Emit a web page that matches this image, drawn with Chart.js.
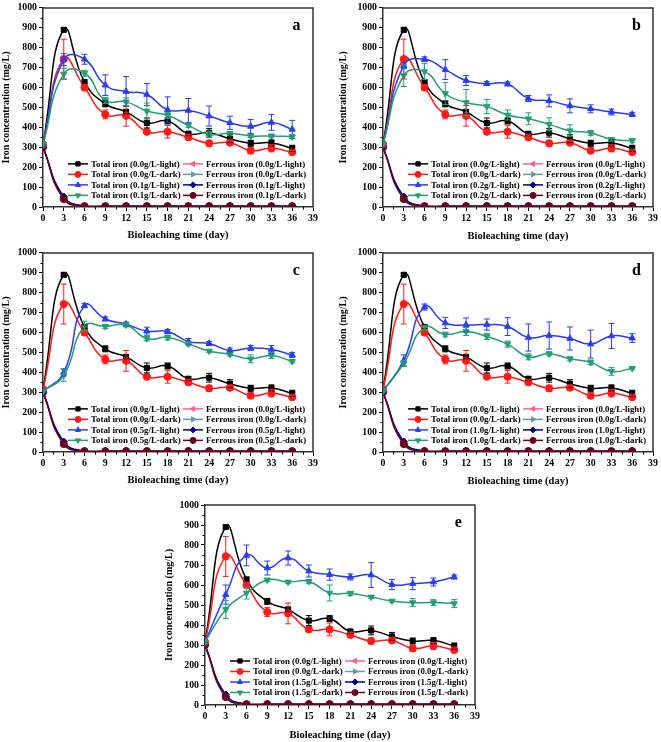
<!DOCTYPE html>
<html><head><meta charset="utf-8">
<script src="https://cdn.jsdelivr.net/npm/chart.js@4.4.1/dist/chart.umd.min.js"></script>
<style>
html,body{margin:0;padding:0;background:#fff;}
body{width:661px;height:742px;position:relative;overflow:hidden;}
canvas{position:absolute;display:block;}
</style>
</head><body>
<canvas id="ca" width="330" height="245" style="left:0;top:0;width:330px;height:245px"></canvas>
<canvas id="cb" width="331" height="245" style="left:330px;top:0;width:331px;height:245px"></canvas>
<canvas id="cc" width="330" height="245" style="left:0;top:245px;width:330px;height:245px"></canvas>
<canvas id="cd" width="331" height="245" style="left:330px;top:245px;width:331px;height:245px"></canvas>
<canvas id="ce" width="340" height="252" style="left:160px;top:490px;width:340px;height:252px"></canvas>
<script>
// ---------------- DATA ----------------
const days = [0,3,6,9,12,15,18,21,24,27,30,33,36];
const xTickValues = [0,3,6,9,12,15,18,21,24,27,30,33,36,39];
const yTickValues = [0,100,200,300,400,500,600,700,800,900,1000];
const panelLetters = ['a','b','c','d','e'];
const doses = ['0.1','0.2','0.5','1.0','1.5'];

// control (0.0 g/L), same in every panel
const totalLight00    = [315,890,628,518,478,422,432,368,373,343,320,322,295];
const totalLight00Err = [0,10,10,15,10,25,15,10,22,20,15,15,15];
const totalDark00     = [315,743,600,465,458,378,378,350,320,323,283,295,275];
const totalDark00Err  = [0,100,15,22,52,10,32,12,15,12,15,18,10];

// panel a (0.1 g/L)
const totalLightA    = [315,740,742,612,580,565,488,485,457,423,405,425,390];
const totalLightAErr = [0,30,25,52,75,55,65,60,50,33,35,40,45];
const totalDarkA     = [315,668,672,535,528,482,460,410,365,370,357,357,353];
const totalDarkAErr  = [0,28,15,15,20,40,15,10,15,8,8,8,10];
// panel b (0.2 g/L)
const totalLightB    = [315,710,742,690,635,620,618,545,533,508,493,477,465];
const totalLightBErr = [0,15,12,50,25,10,10,15,30,35,20,15,10];
const totalDarkB     = [315,660,680,570,525,505,462,443,415,383,372,340,333];
const totalDarkBErr  = [0,55,40,55,65,35,25,30,33,30,12,8,10];
// panel c (0.5 g/L)
const totalLightC    = [305,400,735,668,642,607,605,555,545,510,522,515,487];
const totalLightCErr = [0,18,10,10,10,20,10,15,10,12,12,20,12];
const totalDarkC     = [305,385,632,630,638,570,575,543,507,490,468,485,455];
const totalDarkCErr  = [0,30,25,10,10,12,12,10,8,8,20,15,8];
// panel d (1.0 g/L)
const totalLightD    = [305,460,728,648,638,640,630,575,585,570,542,583,572];
const totalLightDErr = [0,28,15,28,35,28,45,68,68,58,70,63,22];
const totalDarkD     = [305,445,625,590,605,580,542,478,493,468,450,405,420];
const totalDarkDErr  = [0,15,10,12,20,15,15,15,10,10,12,20,5];
// panel e (1.5 g/L)
const totalLightE    = [315,552,748,685,735,670,652,640,650,602,607,615,640];
const totalLightEErr = [0,48,52,35,35,30,28,15,62,25,30,20,10];
const totalDarkE     = [315,478,560,625,615,618,560,558,540,520,512,512,507];
const totalDarkEErr  = [0,45,30,8,8,10,40,10,8,5,20,15,20];

// ferrous iron
const ferrousLight00 = [300,48,4,4,4,4,4,4,4,4,4,4,4];
const ferrousDark00  = [300,42,4,4,4,4,4,4,4,4,4,4,4];
const ferrousLightX  = [300,52,4,4,4,4,4,4,4,4,4,4,4];
const ferrousDarkX   = [300,40,4,4,4,4,4,4,4,4,4,4,4];

// ---------------- STYLE ----------------
const FONT = "'Liberation Serif','Times New Roman',serif";
const COLORS = ['#000000','#ff1a1a','#2b3cf0','#22a075','#ff5f8f','#5f9ea0','#000090','#6a0020'];
const STYLES = [['rect',0],['circle',0],['triangle',0],['triangle',180],['triangle',270],['triangle',90],['rectRot',0],['circle',0]];

const panels = [
  {id:'ca', tl:totalLightA, tlE:totalLightAErr, td:totalDarkA, tdE:totalDarkAErr, pad:{left:0,top:6,right:17,bottom:0}, yW:43, xH:38, yTitlePad:0, xTitlePad:3.7},
  {id:'cb', tl:totalLightB, tlE:totalLightBErr, td:totalDarkB, tdE:totalDarkBErr, pad:{left:0,top:7,right:8,bottom:0}, yW:53, xH:38, yTitlePad:7, xTitlePad:2.7},
  {id:'cc', tl:totalLightC, tlE:totalLightCErr, td:totalDarkC, tdE:totalDarkCErr, pad:{left:0,top:7,right:17,bottom:0}, yW:43, xH:38, yTitlePad:0, xTitlePad:3.7},
  {id:'cd', tl:totalLightD, tlE:totalLightDErr, td:totalDarkD, tdE:totalDarkDErr, pad:{left:0,top:7,right:8,bottom:0}, yW:53, xH:38, yTitlePad:7, xTitlePad:2.7},
  {id:'ce', tl:totalLightE, tlE:totalLightEErr, td:totalDarkE, tdE:totalDarkEErr, pad:{left:0,top:15,right:25,bottom:0}, yW:45, xH:37, yTitlePad:3, xTitlePad:0.7},
];

function pts(vals){ return days.map((d,i)=>({x:d,y:vals[i]})); }

function drawMarker(ctx, style, rot, r, x, y, color){
  if (Chart.helpers && Chart.helpers.drawPoint){
    ctx.save(); ctx.fillStyle=color; ctx.strokeStyle=color; ctx.lineWidth=1;
    Chart.helpers.drawPoint(ctx,{pointStyle:style,rotation:rot,radius:r,borderWidth:1},x,y);
    ctx.restore();
  }
}

const framePlugin = {
  id:'frameExtras',
  afterDatasetsDraw(chart, args, opts){
    const ctx = chart.ctx;
    const xs = chart.scales.x, ys = chart.scales.y;
    // error bars
    chart.data.datasets.forEach((ds,di)=>{
      if(!ds.errorBars) return;
      ctx.save(); ctx.strokeStyle = ds.borderColor; ctx.lineWidth = 1;
      ds.data.forEach((p,i)=>{
        const e = ds.errorBars[i]; if(!e) return;
        const px = xs.getPixelForValue(p.x);
        const y1 = ys.getPixelForValue(p.y - e), y2 = ys.getPixelForValue(p.y + e);
        ctx.beginPath();
        ctx.moveTo(px,y1); ctx.lineTo(px,y2);
        ctx.moveTo(px-3,y1); ctx.lineTo(px+3,y1);
        ctx.moveTo(px-3,y2); ctx.lineTo(px+3,y2);
        ctx.stroke();
      });
      ctx.restore();
    });
  },
  afterDraw(chart, args, opts){
    const ctx = chart.ctx, a = chart.chartArea;
    const xs = chart.scales.x, ys = chart.scales.y;
    ctx.save();
    // top and right frame
    ctx.strokeStyle = '#333'; ctx.lineWidth = 1.5;
    ctx.beginPath();
    ctx.moveTo(a.left, a.top); ctx.lineTo(a.right, a.top); ctx.lineTo(a.right, a.bottom);
    ctx.stroke();
    // minor ticks
    ctx.strokeStyle = '#000'; ctx.lineWidth = 1;
    ctx.beginPath();
    for(let i=0;i<xTickValues.length-1;i++){
      const px = Math.round(xs.getPixelForValue((xTickValues[i]+xTickValues[i+1])/2))+0.5;
      ctx.moveTo(px,a.bottom); ctx.lineTo(px,a.bottom+2.5);
    }
    for(let i=0;i<yTickValues.length-1;i++){
      const py = Math.round(ys.getPixelForValue((yTickValues[i]+yTickValues[i+1])/2))+0.5;
      ctx.moveTo(a.left,py); ctx.lineTo(a.left-2.5,py);
    }
    ctx.stroke();
    // panel letter
    ctx.fillStyle='#000';
    ctx.font = "bold 16px "+FONT;
    ctx.textAlign='center'; ctx.textBaseline='middle';
    ctx.fillText(opts.letter, xs.getPixelForValue(36.6), ys.getPixelForValue(912));
    // legend
    ctx.font = "bold 8.8px "+FONT;
    ctx.textAlign='left';
    const rows=[156,166.5,177,187.5];
    const cols=[{l0:25,l1:45,t:48},{l0:140,l1:160,t:163}];
    chart.data.datasets.forEach((ds,i)=>{
      const c = cols[Math.floor(i/4)], ry = a.top + rows[i%4];
      ctx.strokeStyle = ds.borderColor; ctx.lineWidth = 1.5;
      ctx.beginPath(); ctx.moveTo(a.left+c.l0, ry); ctx.lineTo(a.left+c.l1, ry); ctx.stroke();
      drawMarker(ctx, ds.pointStyle, ds.pointRotation, 3, a.left+(c.l0+c.l1)/2, ry, ds.borderColor);
      ctx.fillStyle='#000';
      ctx.fillText(ds.label, a.left+c.t, ry+0.5);
    });
    ctx.restore();
  }
};

panels.forEach((p,pi)=>{
  const dose = doses[pi];
  const series = [
    {label:'Total iron (0.0g/L-light)', v:totalLight00, e:totalLight00Err},
    {label:'Total iron (0.0g/L-dark)', v:totalDark00, e:totalDark00Err},
    {label:'Total iron ('+dose+'g/L-light)', v:p.tl, e:p.tlE},
    {label:'Total iron ('+dose+'g/L-dark)', v:p.td, e:p.tdE},
    {label:'Ferrous iron (0.0g/L-light)', v:ferrousLight00},
    {label:'Ferrous iron (0.0g/L-dark)', v:ferrousDark00},
    {label:'Ferrous iron ('+dose+'g/L-light)', v:ferrousLightX},
    {label:'Ferrous iron ('+dose+'g/L-dark)', v:ferrousDarkX},
  ];
  const datasets = series.map((s,i)=>({
    label:s.label, data:pts(s.v), errorBars:s.e||null,
    borderColor:COLORS[i], backgroundColor:COLORS[i],
    borderWidth:1.5, tension:0.5, order: (i<4 ? 4-i : 12-i),
    pointStyle:STYLES[i][0], pointRotation:STYLES[i][1],
    pointRadius:3.6, pointBorderWidth:1, pointHoverRadius:3.6,
  }));
  new Chart(document.getElementById(p.id), {
    type:'line',
    data:{datasets},
    plugins:[framePlugin],
    options:{
      responsive:false, animation:false, devicePixelRatio:1,
      layout:{padding:p.pad},
      plugins:{legend:{display:false}, tooltip:{enabled:false}, frameExtras:{letter:panelLetters[pi]}},
      scales:{
        x:{type:'linear', min:0, max:39,
          afterBuildTicks:s=>{ s.ticks = xTickValues.map(v=>({value:v})); },
          afterFit:s=>{ s.height = p.xH; },
          grid:{drawOnChartArea:false, drawTicks:true, tickLength:4, color:'#000', tickColor:'#000', tickWidth:1},
          border:{display:true, color:'#333', width:1.5},
          ticks:{color:'#000', padding:2, maxRotation:0, autoSkip:false, callback:v=>String(v), font:{family:FONT, size:9.8, weight:'bold'}},
          title:{display:true, text:'Bioleaching time (day)', color:'#000', padding:{top:0,bottom:p.xTitlePad}, font:{family:FONT,size:10.5,weight:'bold'}}
        },
        y:{type:'linear', min:0, max:1000,
          afterBuildTicks:s=>{ s.ticks = yTickValues.map(v=>({value:v})); },
          afterFit:s=>{ s.width = p.yW; },
          grid:{drawOnChartArea:false, drawTicks:true, tickLength:4, color:'#000', tickColor:'#000', tickWidth:1},
          border:{display:true, color:'#333', width:1.5},
          ticks:{color:'#000', padding:2, autoSkip:false, callback:v=>String(v), font:{family:FONT, size:9.8, weight:'bold'}},
          title:{display:true, text:'Iron concentration (mg/L)', color:'#000', padding:{top:p.yTitlePad,bottom:0}, font:{family:FONT,size:10,weight:'bold'}}
        }
      }
    }
  });
});
</script>
</body></html>
